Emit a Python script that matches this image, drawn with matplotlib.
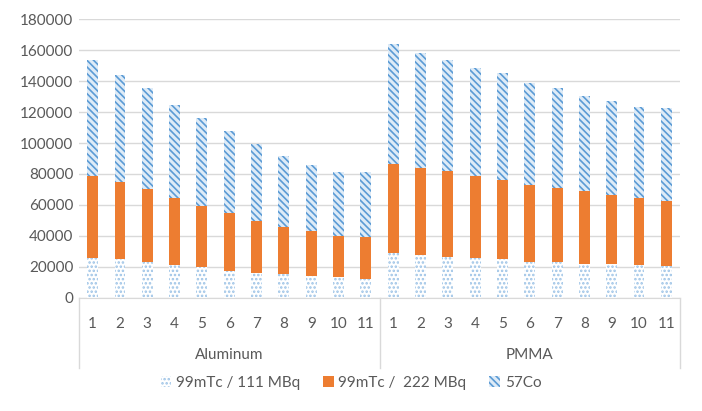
import matplotlib
matplotlib.use("Agg")
import matplotlib.pyplot as plt
import numpy as np

plt.rcParams['font.family'] = ['Lato', 'DejaVu Sans']
plt.rcParams['hatch.linewidth'] = 1.2

groups = ["Aluminum", "PMMA"]
positions = ["1", "2", "3", "4", "5", "6", "7", "8", "9", "10", "11"]
series_names = ["99mTc / 111 MBq", "99mTc /  222 MBq", "57Co"]

tc111_al = [25900, 25300, 23000, 21000, 20000, 17100, 16100, 15100, 14100, 13200, 12300]
tc222_al = [53100, 49700, 47100, 43200, 39400, 37500, 33600, 30700, 29000, 26800, 27100]
co57_al = [74500, 69300, 65200, 60600, 56700, 53400, 49700, 46100, 42500, 41000, 42100]

tc111_pm = [28600, 27700, 26600, 25700, 25100, 22800, 22800, 21900, 22100, 21000, 20200]
tc222_pm = [58000, 56000, 55200, 53200, 50700, 50200, 48200, 47400, 44100, 43500, 42300]
co57_pm = [77700, 74800, 71700, 69900, 69400, 65500, 64300, 61200, 61100, 58900, 59900]

tc111 = np.array(tc111_al + tc111_pm)
tc222 = np.array(tc222_al + tc222_pm)
co57 = np.array(co57_al + co57_pm)

fig = plt.figure(figsize=(7.02, 4.11), dpi=100)
ax = fig.add_axes([79/702, 1-297.7/411, 601/702, (297.7-19.3)/411])

x = np.arange(len(tc111))
w = 0.40
blue = '#5B9BD5'
b1 = ax.bar(x, tc111, w, color='white', edgecolor='#9DC3E6', hatch='....', linewidth=0, label=series_names[0])
b2 = ax.bar(x, tc222, w, bottom=tc111, color='#ED7D31', linewidth=0, label=series_names[1])
b3 = ax.bar(x, co57, w, bottom=tc111+tc222, color='#DEEBF7', edgecolor=blue, hatch='\\\\\\\\\\', linewidth=0, label=series_names[2])

ax.set_xlim(-0.5, len(x)-0.5)
ax.set_ylim(0, 180000)
ax.set_yticks(np.arange(0, 180001, 20000))
ax.yaxis.grid(True, color='#D9D9D9', linewidth=1)
ax.set_axisbelow(True)
for s in ['top', 'right', 'left']:
    ax.spines[s].set_visible(False)
ax.spines['bottom'].set_color('#D9D9D9')
ax.tick_params(axis='y', length=0, labelsize=11, labelcolor='#595959', pad=4)
ax.set_xticks(x)
ax.set_xticklabels(positions * len(groups))
ax.tick_params(axis='x', length=0, labelsize=11, labelcolor='#595959', pad=14)

for xv in [-0.5, 10.5, 21.5]:
    ax.plot([xv, xv], [0, -0.2525], transform=ax.get_xaxis_transform(), color='#D9D9D9', lw=1, clip_on=False)
for i, g in enumerate(groups):
    ax.text(i*11 + 5, -0.205, g, transform=ax.get_xaxis_transform(), ha='center', va='center', fontsize=11, color='#595959')

fig.legend(handles=[b1, b2, b3], labels=series_names, loc='center', bbox_to_anchor=(0.5, 1-383/411), ncol=3,
           frameon=False, fontsize=11, labelcolor='#595959', handlelength=0.7, handleheight=0.7,
           handletextpad=0.3, columnspacing=1.5)

fig.savefig('out.png', dpi=100)
